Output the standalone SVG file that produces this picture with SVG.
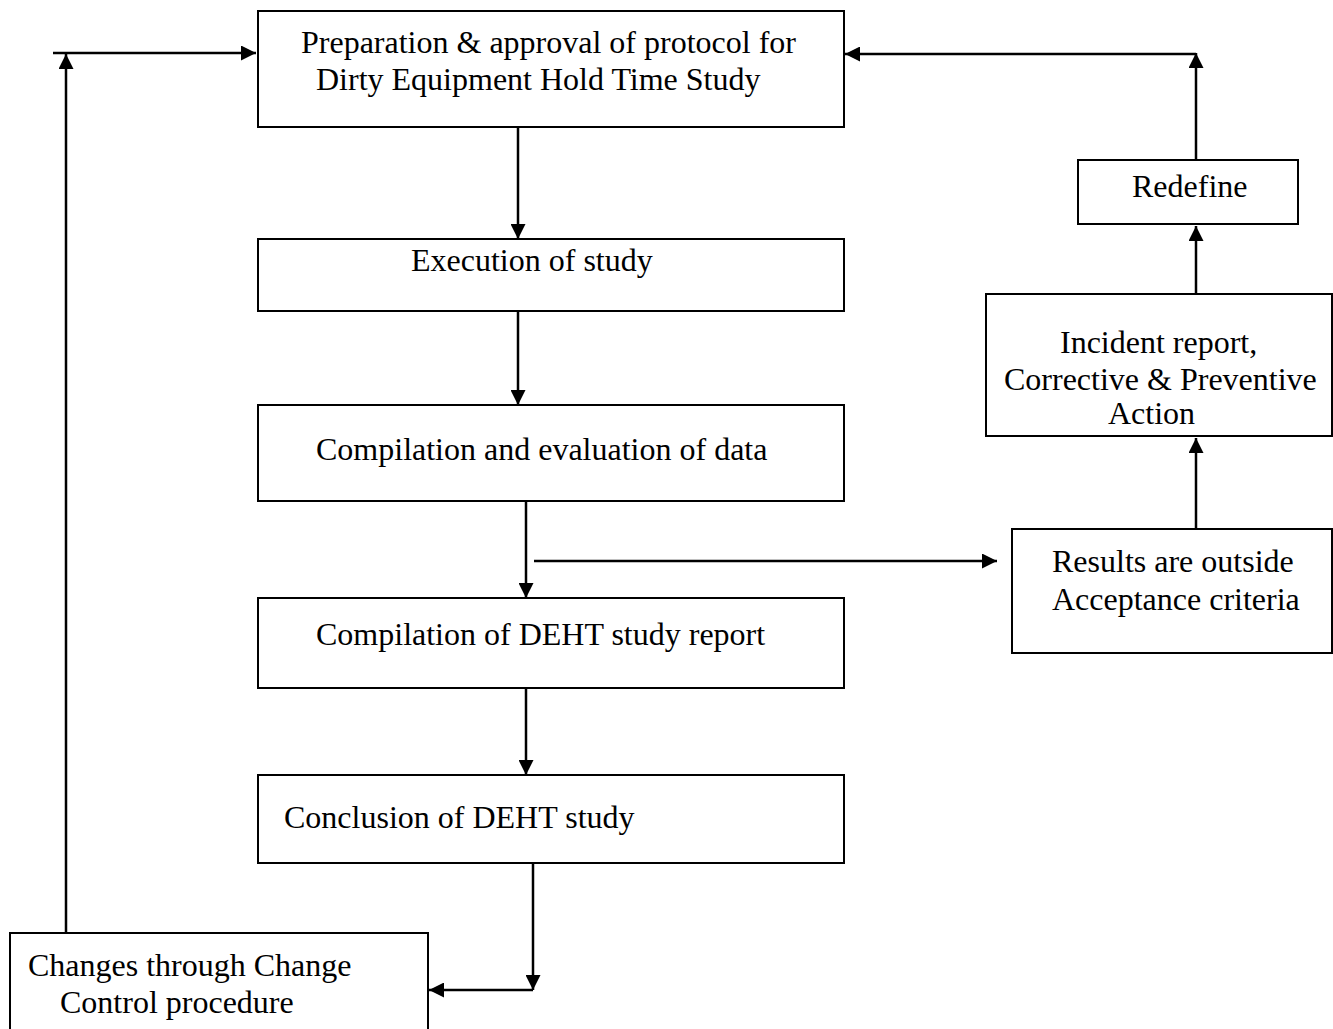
<svg xmlns="http://www.w3.org/2000/svg" width="1333" height="1029" viewBox="0 0 1333 1029">
<defs>
<marker id="ah" viewBox="0 0 15 15" refX="15" refY="7.5" markerWidth="15" markerHeight="15" markerUnits="userSpaceOnUse" orient="auto">
<path d="M0,0 L15,7.5 L0,15 Z" fill="#000"/>
</marker>
<style>
.box{fill:#fff;stroke:#000;stroke-width:2}
.t{font-family:"Liberation Serif","Times New Roman",serif;font-size:32px;fill:#000}
.c{fill:none;stroke:#000;stroke-width:2.5}
</style>
</defs>
<rect width="1333" height="1029" fill="#fff"/>
<g id="connectors">
<path class="c" d="M66,933 V54" marker-end="url(#ah)"/>
<path class="c" d="M53,53 H256" marker-end="url(#ah)"/>
<path class="c" d="M1196,160 V53" marker-end="url(#ah)"/>
<path class="c" d="M1196,54 H845" marker-end="url(#ah)"/>
<path class="c" d="M518,127 V239" marker-end="url(#ah)"/>
<path class="c" d="M518,311 V405" marker-end="url(#ah)"/>
<path class="c" d="M526,501 V598" marker-end="url(#ah)"/>
<path class="c" d="M534,561 H997" marker-end="url(#ah)"/>
<path class="c" d="M1196,529 V438" marker-end="url(#ah)"/>
<path class="c" d="M1196,294 V226" marker-end="url(#ah)"/>
<path class="c" d="M526,688 V775" marker-end="url(#ah)"/>
<path class="c" d="M533,863 V990" marker-end="url(#ah)"/>
<path class="c" d="M533,990 H429" marker-end="url(#ah)"/>
</g>
<g id="n1"><rect class="box" x="258" y="11" width="586" height="116"/>
<text class="t" x="301" y="53">Preparation &amp; approval of protocol for</text>
<text class="t" x="316" y="90">Dirty Equipment Hold Time Study</text></g>
<g id="n2"><rect class="box" x="258" y="239" width="586" height="72"/>
<text class="t" x="411" y="271">Execution of study</text></g>
<g id="n3"><rect class="box" x="258" y="405" width="586" height="96"/>
<text class="t" x="316" y="460">Compilation and evaluation of data</text></g>
<g id="n4"><rect class="box" x="258" y="598" width="586" height="90"/>
<text class="t" x="316" y="645">Compilation of DEHT study report</text></g>
<g id="n5"><rect class="box" x="258" y="775" width="586" height="88"/>
<text class="t" x="284" y="828">Conclusion of DEHT study</text></g>
<g id="n6"><rect class="box" x="10" y="933" width="418" height="110"/>
<text class="t" x="28" y="976">Changes through Change</text>
<text class="t" x="60" y="1013">Control procedure</text></g>
<g id="n7"><rect class="box" x="1078" y="160" width="220" height="64"/>
<text class="t" x="1132" y="197">Redefine</text></g>
<g id="n8"><rect class="box" x="986" y="294" width="346" height="142"/>
<text class="t" x="1060" y="353">Incident report,</text>
<text class="t" x="1004" y="390">Corrective &amp; Preventive</text>
<text class="t" x="1108" y="424">Action</text></g>
<g id="n9"><rect class="box" x="1012" y="529" width="320" height="124"/>
<text class="t" x="1052" y="572">Results are outside</text>
<text class="t" x="1052" y="610">Acceptance criteria</text></g>
</svg>
